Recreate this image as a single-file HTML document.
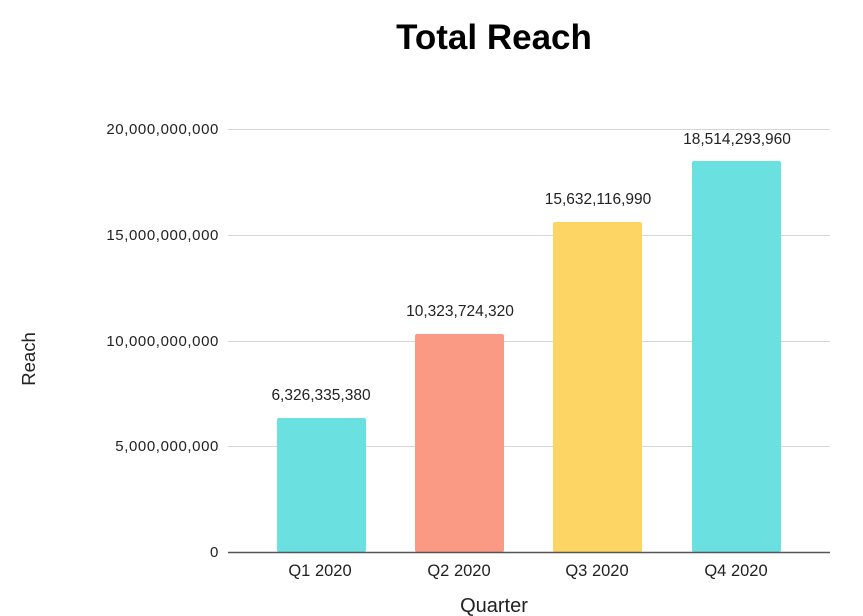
<!DOCTYPE html>
<html><head><meta charset="utf-8"><style>
html,body{margin:0;padding:0;background:#fff;width:863px;height:616px;overflow:hidden}
svg{display:block}
text{font-family:"Liberation Sans",Arial,sans-serif;fill:#222}
</style></head><body>
<svg width="863" height="616" viewBox="0 0 863 616" xmlns="http://www.w3.org/2000/svg">
<text x="494" y="49" text-anchor="middle" font-size="35" font-weight="bold" style="fill:#000">Total Reach</text>
<g stroke="#d6d6d6" stroke-width="1">
<line x1="228" y1="129.5" x2="830" y2="129.5"/>
<line x1="228" y1="235.5" x2="830" y2="235.5"/>
<line x1="228" y1="341.5" x2="830" y2="341.5"/>
<line x1="228" y1="446.5" x2="830" y2="446.5"/>
</g>
<g font-size="15" text-anchor="end" letter-spacing="0.6">
<text x="219" y="134">20,000,000,000</text>
<text x="219" y="240">15,000,000,000</text>
<text x="219" y="346">10,000,000,000</text>
<text x="219" y="451">5,000,000,000</text>
<text x="219" y="557">0</text>
</g>
<rect x="277" y="418" width="89" height="134" rx="2" fill="#6ae0e0"/>
<rect x="415" y="334" width="89" height="218" rx="2" fill="#fa9a85"/>
<rect x="553" y="222" width="89" height="330" rx="2" fill="#fdd564"/>
<rect x="692" y="161" width="89" height="391" rx="2" fill="#6ae0e0"/>
<line x1="228" y1="552.5" x2="830" y2="552.5" stroke="#555" stroke-width="1.5"/>
<g font-size="15.5" text-anchor="middle">
<text x="321" y="400">6,326,335,380</text>
<text x="460" y="316">10,323,724,320</text>
<text x="598" y="204">15,632,116,990</text>
<text x="737" y="144">18,514,293,960</text>
</g>
<g font-size="16.5" text-anchor="middle">
<text x="320" y="576">Q1 2020</text>
<text x="459" y="576">Q2 2020</text>
<text x="597" y="576">Q3 2020</text>
<text x="736" y="576">Q4 2020</text>
</g>
<text x="494" y="612" text-anchor="middle" font-size="20">Quarter</text>
<text transform="translate(35,359) rotate(-90)" text-anchor="middle" font-size="18.5">Reach</text>
</svg>
</body></html>
